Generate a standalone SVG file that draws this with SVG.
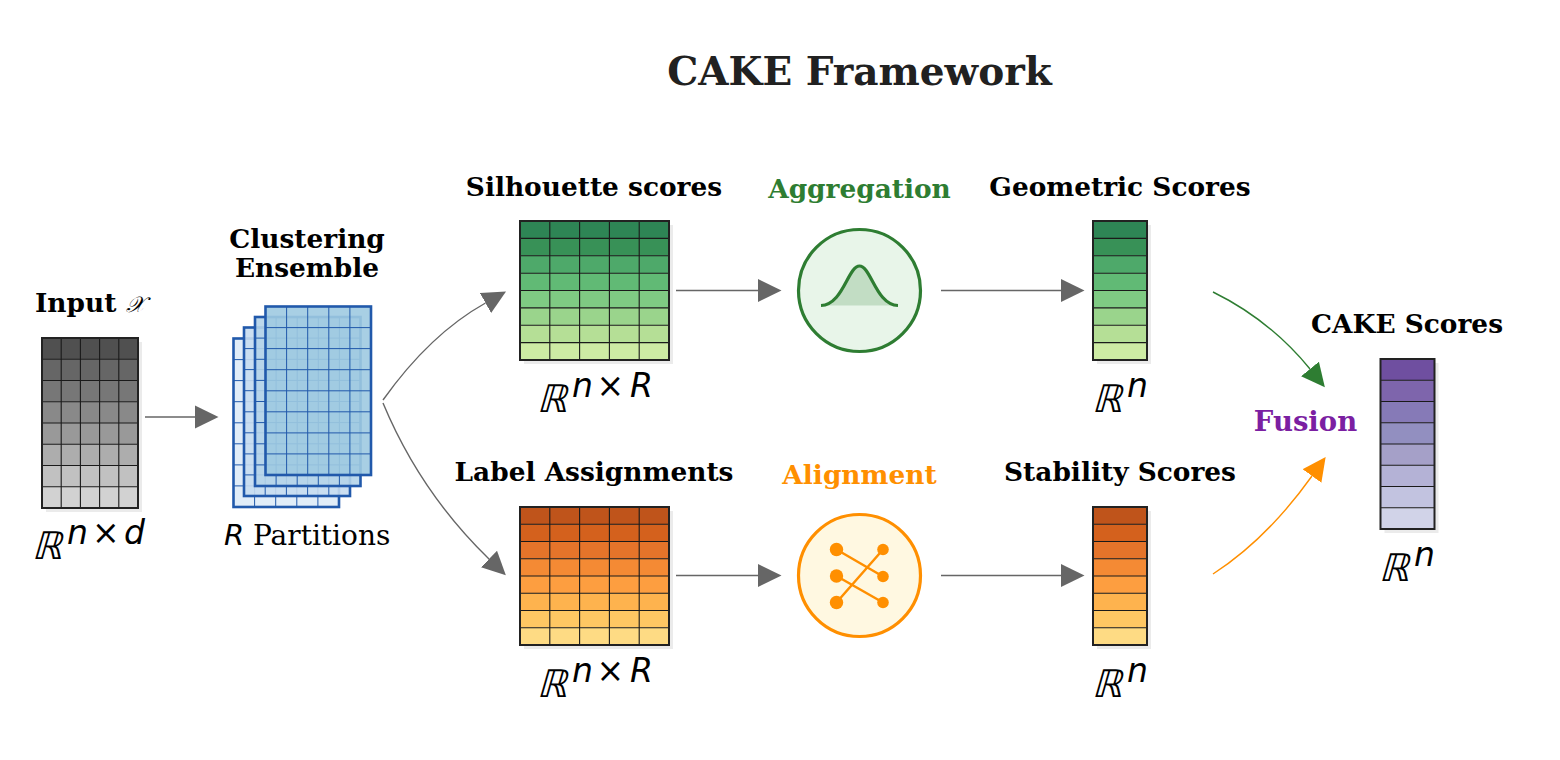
<svg xmlns="http://www.w3.org/2000/svg" width="1560" height="760" viewBox="0 0 1560 760">
<style>
.t{font-family:"DejaVu Serif","Liberation Serif",serif;font-weight:700;font-size:26.4px;text-anchor:middle;fill:#000}
.m{font-family:"DejaVu Sans","Liberation Sans",sans-serif;font-style:italic;font-size:33px;fill:#000}
.x{font-family:"DejaVu Sans","Liberation Sans",sans-serif;font-size:33px;fill:#000}
.bb{font-family:"DejaVu Sans","Liberation Sans",sans-serif;font-size:38px;fill:#000}
.sh{fill:#000;opacity:.08}
.box{fill:none;stroke:#222;stroke-width:2}
.g{fill:none;stroke:#1a1a1a;stroke-width:1.1}
.pg{fill:none;stroke:#2159ab;stroke-width:1}
.pb{stroke:#2159ab;stroke-width:2.6;fill-opacity:.9}
.ln{fill:none;stroke:#666;stroke-width:1.4}
.o{fill:#ff8f00}
</style>
<defs>
<marker id="ag" markerUnits="userSpaceOnUse" markerWidth="24" markerHeight="24" refX="0" refY="12" orient="auto" viewBox="0 0 24 24"><path d="M0 .5L23.500 12L0 23.500Z" fill="#666"/></marker>
<marker id="agr" markerUnits="userSpaceOnUse" markerWidth="24" markerHeight="24" refX="0" refY="12" orient="auto" viewBox="0 0 24 24"><path d="M0 .5L23.500 12L0 23.500Z" fill="#2e7d32"/></marker>
<marker id="aor" markerUnits="userSpaceOnUse" markerWidth="24" markerHeight="24" refX="0" refY="12" orient="auto" viewBox="0 0 24 24"><path d="M0 .5L23.500 12L0 23.500Z" fill="#ff8f00"/></marker>
</defs>
<rect width="1560" height="760" fill="#fff"/>
<text x="859.500" y="85" class="t" style="font-size:39px;fill:#212121">CAKE Framework</text>

<g id="connectors">
<path class="ln" d="M145 417H195" marker-end="url(#ag)"/>
<path class="ln" d="M383 400Q430 334 485.500 303" marker-end="url(#ag)"/>
<path class="ln" d="M383 403Q420 492 489 559" marker-end="url(#ag)"/>
<path class="ln" d="M676 290.500H758" marker-end="url(#ag)"/>
<path class="ln" d="M941 290.500H1061" marker-end="url(#ag)"/>
<path class="ln" d="M676 575.500H758" marker-end="url(#ag)"/>
<path class="ln" d="M941 575.500H1061" marker-end="url(#ag)"/>
<path d="M1213 292Q1270 320 1310 369" fill="none" stroke="#2e7d32" stroke-width="1.4" marker-end="url(#agr)"/>
<path d="M1213 574Q1267 539 1312 476" fill="none" stroke="#ff8f00" stroke-width="1.4" marker-end="url(#aor)"/>
</g>

<g id="input">
<text x="35" y="312" class="t" style="text-anchor:start">Input <tspan font-family="'DejaVu Sans','Noto Sans',sans-serif" font-style="italic" font-weight="400" font-size="22">𝒳</tspan></text>
<rect x="46" y="342" width="96" height="170" class="sh"/>
<rect x="42" y="338" width="96" height="21.250" fill="#505050"/>
<rect x="42" y="359.250" width="96" height="21.250" fill="#666"/>
<rect x="42" y="380.500" width="96" height="21.250" fill="#777"/>
<rect x="42" y="401.750" width="96" height="21.250" fill="#898989"/>
<rect x="42" y="423" width="96" height="21.250" fill="#999"/>
<rect x="42" y="444.250" width="96" height="21.250" fill="#adadad"/>
<rect x="42" y="465.500" width="96" height="21.250" fill="#c1c1c1"/>
<rect x="42" y="486.750" width="96" height="21.250" fill="#d2d2d2"/>
<path class="g" d="M61.200 338V508M80.400 338V508M99.600 338V508M118.800 338V508M42 359.250H138M42 380.500H138M42 401.750H138M42 423H138M42 444.250H138M42 465.500H138M42 486.750H138"/>
<rect x="42" y="338" width="96" height="170" class="box"/>
<text transform="translate(31.500 558.500) skewX(-16)" class="bb">ℝ</text><text x="67" y="543.500" class="m">n</text><text x="92" y="543.500" class="x">×</text><text x="124" y="543.500" class="m">d</text>
</g>

<g id="ensemble">
<text x="307" y="248" class="t">Clustering</text>
<text x="307" y="277" class="t">Ensemble</text>
<rect x="233.500" y="338.500" width="105.500" height="168.500" class="pb" fill="#deebf7"/>
<path class="pg" d="M254.600 338.500V507M275.700 338.500V507M296.800 338.500V507M317.900 338.500V507M233.500 359.600H339M233.500 380.600H339M233.500 401.700H339M233.500 422.800H339M233.500 443.800H339M233.500 464.900H339M233.500 485.900H339"/>
<rect x="244" y="327.500" width="106" height="168.500" class="pb" fill="#c6dbef"/>
<path class="pg" d="M265.200 327.500V496M286.400 327.500V496M307.600 327.500V496M328.800 327.500V496M244 348.600H350M244 369.600H350M244 390.700H350M244 411.800H350M244 432.800H350M244 453.900H350M244 474.900H350"/>
<rect x="255" y="317" width="105.500" height="169" class="pb" fill="#b5d4e9"/>
<path class="pg" d="M276.100 317V486M297.200 317V486M318.300 317V486M339.400 317V486M255 338.100H360.500M255 359.300H360.500M255 380.400H360.500M255 401.500H360.500M255 422.600H360.500M255 443.800H360.500M255 464.900H360.500"/>
<rect x="265.500" y="306.500" width="105.500" height="168.500" class="pb" fill="#9ecae1"/>
<path class="pg" d="M286.600 306.500V475M307.700 306.500V475M328.800 306.500V475M349.900 306.500V475M265.500 327.600H371M265.500 348.600H371M265.500 369.700H371M265.500 390.800H371M265.500 411.800H371M265.500 432.900H371M265.500 453.900H371"/>
<text x="224" y="544.500" style="font-family:'DejaVu Sans',sans-serif;font-style:italic;font-size:29px">R</text>
<text x="253" y="544.500" style="font-family:'DejaVu Serif',serif;font-size:28px">Partitions</text>
</g>

<g id="silhouette">
<text x="594" y="196" class="t">Silhouette scores</text>
<rect x="524" y="225" width="149" height="139" class="sh"/>
<rect x="520" y="221" width="149" height="17.400" fill="#2e8555"/>
<rect x="520" y="238.400" width="149" height="17.400" fill="#389157"/>
<rect x="520" y="255.800" width="149" height="17.400" fill="#4ea96a"/>
<rect x="520" y="273.200" width="149" height="17.400" fill="#61ba75"/>
<rect x="520" y="290.500" width="149" height="17.400" fill="#7fca83"/>
<rect x="520" y="307.900" width="149" height="17.400" fill="#9ad48c"/>
<rect x="520" y="325.300" width="149" height="17.400" fill="#b5df96"/>
<rect x="520" y="342.600" width="149" height="17.400" fill="#cdeba4"/>
<path class="g" d="M549.800 221V360M579.600 221V360M609.400 221V360M639.200 221V360M520 238.400H669M520 255.800H669M520 273.200H669M520 290.500H669M520 307.900H669M520 325.300H669M520 342.600H669"/>
<rect x="520" y="221" width="149" height="139" class="box"/>
<text transform="translate(536.500 411.500) skewX(-16)" class="bb">ℝ</text><text x="572" y="396.500" class="m">n</text><text x="596.500" y="396.500" class="x">×</text><text x="630" y="396.500" class="m">R</text>
</g>

<g id="aggregation">
<text x="859.500" y="198" class="t" style="fill:#2e7d32">Aggregation</text>
<circle cx="859.500" cy="290.500" r="61" fill="#e8f5e9" stroke="#2e7d32" stroke-width="3.200"/>
<path d="M821 305.500C843 305 848 266 859.500 266C871 266 876 305 898 305.500Z" fill="#2e7d32" fill-opacity=".2"/>
<path d="M821 305.500C843 305 848 266 859.500 266C871 266 876 305 898 305.500" fill="none" stroke="#2e7d32" stroke-width="3.200"/>
</g>

<g id="geometric">
<text x="1120" y="196" class="t">Geometric Scores</text>
<rect x="1097" y="225" width="54" height="139" class="sh"/>
<rect x="1093" y="221" width="54" height="17.400" fill="#2e8555"/>
<rect x="1093" y="238.400" width="54" height="17.400" fill="#389157"/>
<rect x="1093" y="255.800" width="54" height="17.400" fill="#4ea96a"/>
<rect x="1093" y="273.200" width="54" height="17.400" fill="#61ba75"/>
<rect x="1093" y="290.500" width="54" height="17.400" fill="#7fca83"/>
<rect x="1093" y="307.900" width="54" height="17.400" fill="#9ad48c"/>
<rect x="1093" y="325.300" width="54" height="17.400" fill="#b5df96"/>
<rect x="1093" y="342.600" width="54" height="17.400" fill="#cdeba4"/>
<path class="g" d="M1093 238.400H1147M1093 255.800H1147M1093 273.200H1147M1093 290.500H1147M1093 307.900H1147M1093 325.300H1147M1093 342.600H1147"/>
<rect x="1093" y="221" width="54" height="139" class="box"/>
<text transform="translate(1091.500 411.500) skewX(-16)" class="bb">ℝ</text><text x="1127" y="396.500" class="m">n</text>
</g>

<g id="labels">
<text x="594" y="481" class="t">Label Assignments</text>
<rect x="524" y="511" width="149" height="138" class="sh"/>
<rect x="520" y="507" width="149" height="17.250" fill="#bf541b"/>
<rect x="520" y="524.250" width="149" height="17.250" fill="#d4611d"/>
<rect x="520" y="541.500" width="149" height="17.250" fill="#e5742a"/>
<rect x="520" y="558.750" width="149" height="17.250" fill="#f48a34"/>
<rect x="520" y="576" width="149" height="17.250" fill="#fd9e40"/>
<rect x="520" y="593.250" width="149" height="17.250" fill="#feb34e"/>
<rect x="520" y="610.500" width="149" height="17.250" fill="#fec763"/>
<rect x="520" y="627.750" width="149" height="17.250" fill="#fedb84"/>
<path class="g" d="M549.800 507V645M579.600 507V645M609.400 507V645M639.200 507V645M520 524.250H669M520 541.500H669M520 558.750H669M520 576H669M520 593.250H669M520 610.500H669M520 627.750H669"/>
<rect x="520" y="507" width="149" height="138" class="box"/>
<text transform="translate(536.500 696.500) skewX(-16)" class="bb">ℝ</text><text x="572" y="681.500" class="m">n</text><text x="596.500" y="681.500" class="x">×</text><text x="630" y="681.500" class="m">R</text>
</g>

<g id="alignment">
<text x="859.500" y="484" class="t" style="fill:#ff8f00">Alignment</text>
<circle cx="859.500" cy="575.500" r="61" fill="#fff8e1" stroke="#ff8f00" stroke-width="3.200"/>
<path d="M836.500 549.500L883 576.500M836.500 576L883 602.500M836.500 602.500L883 549.500" fill="none" stroke="#ff8f00" stroke-width="2.500"/>
<circle class="o" cx="836.500" cy="549.500" r="6.700"/><circle class="o" cx="836.500" cy="576" r="6.700"/><circle class="o" cx="836.500" cy="602.500" r="6.700"/>
<circle class="o" cx="883" cy="549.500" r="5.800"/><circle class="o" cx="883" cy="576.500" r="5.800"/><circle class="o" cx="883" cy="602.500" r="5.800"/>
</g>

<g id="stability">
<text x="1120" y="481" class="t">Stability Scores</text>
<rect x="1097" y="511" width="54" height="138" class="sh"/>
<rect x="1093" y="507" width="54" height="17.250" fill="#bf541b"/>
<rect x="1093" y="524.250" width="54" height="17.250" fill="#d4611d"/>
<rect x="1093" y="541.500" width="54" height="17.250" fill="#e5742a"/>
<rect x="1093" y="558.750" width="54" height="17.250" fill="#f48a34"/>
<rect x="1093" y="576" width="54" height="17.250" fill="#fd9e40"/>
<rect x="1093" y="593.250" width="54" height="17.250" fill="#feb34e"/>
<rect x="1093" y="610.500" width="54" height="17.250" fill="#fec763"/>
<rect x="1093" y="627.750" width="54" height="17.250" fill="#fedb84"/>
<path class="g" d="M1093 524.250H1147M1093 541.500H1147M1093 558.750H1147M1093 576H1147M1093 593.250H1147M1093 610.500H1147M1093 627.750H1147"/>
<rect x="1093" y="507" width="54" height="138" class="box"/>
<text transform="translate(1091.500 696.500) skewX(-16)" class="bb">ℝ</text><text x="1127" y="681.500" class="m">n</text>
</g>

<g id="fusion">
<text x="1305.500" y="431" class="t" style="fill:#7b1fa2;font-size:27.500px">Fusion</text>
</g>

<g id="cake">
<text x="1407" y="333" class="t">CAKE Scores</text>
<rect x="1384.500" y="363" width="54" height="170" class="sh"/>
<rect x="1380.500" y="359" width="54" height="21.250" fill="#6f4fa0"/>
<rect x="1380.500" y="380.250" width="54" height="21.250" fill="#7e65ac"/>
<rect x="1380.500" y="401.500" width="54" height="21.250" fill="#867ab7"/>
<rect x="1380.500" y="422.750" width="54" height="21.250" fill="#928fc0"/>
<rect x="1380.500" y="444" width="54" height="21.250" fill="#a5a0c8"/>
<rect x="1380.500" y="465.250" width="54" height="21.250" fill="#b4b2d6"/>
<rect x="1380.500" y="486.500" width="54" height="21.250" fill="#c2c3e0"/>
<rect x="1380.500" y="507.750" width="54" height="21.250" fill="#d1d3e8"/>
<path class="g" d="M1380.500 380.250H1434.500M1380.500 401.500H1434.500M1380.500 422.750H1434.500M1380.500 444H1434.500M1380.500 465.250H1434.500M1380.500 486.500H1434.500M1380.500 507.750H1434.500"/>
<rect x="1380.500" y="359" width="54" height="170" class="box"/>
<text transform="translate(1378.500 580.500) skewX(-16)" class="bb">ℝ</text><text x="1414" y="565.500" class="m">n</text>
</g>
</svg>
